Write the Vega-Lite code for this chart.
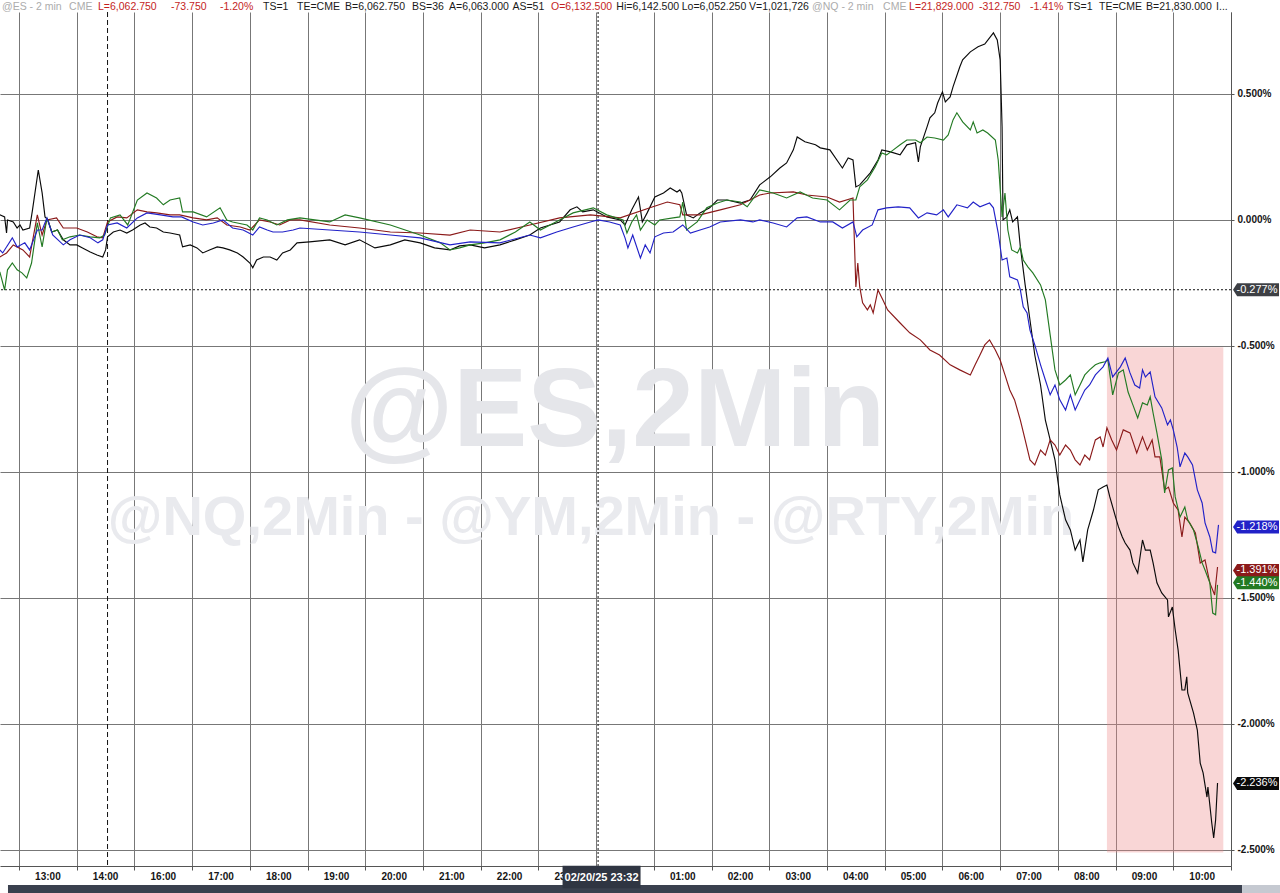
{
"$schema":"https://vega.github.io/schema/vega-lite/v6.json",
"width":1231,"height":854,
"autosize":{"type":"none"},
"padding":{"left":0,"top":12,"right":49,"bottom":27},
"background":"#ffffff",
"config":{"view":{"stroke":null},"font":"Liberation Sans"},
"datasets":{
"hours":[{"m":60,"lab":"13:00"},{"m":120,"lab":"14:00"},{"m":180,"lab":"16:00"},{"m":240,"lab":"17:00"},{"m":300,"lab":"18:00"},{"m":360,"lab":"19:00"},{"m":420,"lab":"20:00"},{"m":480,"lab":"21:00"},{"m":540,"lab":"22:00"},{"m":600,"lab":"23:00"},{"m":720,"lab":"01:00"},{"m":780,"lab":"02:00"},{"m":840,"lab":"03:00"},{"m":900,"lab":"04:00"},{"m":960,"lab":"05:00"},{"m":1020,"lab":"06:00"},{"m":1080,"lab":"07:00"},{"m":1140,"lab":"08:00"},{"m":1200,"lab":"09:00"},{"m":1260,"lab":"10:00"}],
"ends":[{"s":"REF","v":-0.277,"lbl":"-0.277%"},{"s":"ES","v":-1.218,"lbl":"-1.218%"},{"s":"YM","v":-1.391,"lbl":"-1.391%"},{"s":"NQ","v":-1.44,"lbl":"-1.440%"},{"s":"RTY","v":-2.236,"lbl":"-2.236%"}],
"series":[
{"s":"RTY","m":10,"v":0.020},{"s":"RTY","m":15,"v":0.012},{"s":"RTY","m":17,"v":-0.052},{"s":"RTY","m":18,"v":0},{"s":"RTY","m":24,"v":-0.008},{"s":"RTY","m":28,"v":-0.032},{"s":"RTY","m":31,"v":-0.020},{"s":"RTY","m":34,"v":-0.040},{"s":"RTY","m":41,"v":-0.032},{"s":"RTY","m":44,"v":0.040},{"s":"RTY","m":50,"v":0.198},{"s":"RTY","m":54,"v":0.107},{"s":"RTY","m":57,"v":0.012},{"s":"RTY","m":60,"v":0},{"s":"RTY","m":64,"v":-0.048},{"s":"RTY","m":70,"v":-0.040},{"s":"RTY","m":76,"v":-0.079},{"s":"RTY","m":83,"v":-0.099},{"s":"RTY","m":90,"v":-0.099},{"s":"RTY","m":96,"v":-0.111},{"s":"RTY","m":104,"v":-0.127},{"s":"RTY","m":111,"v":-0.139},{"s":"RTY","m":117,"v":-0.147},{"s":"RTY","m":120,"v":-0.119},{"s":"RTY","m":122,"v":-0.067},{"s":"RTY","m":128,"v":-0.048},{"s":"RTY","m":135,"v":-0.040},{"s":"RTY","m":142,"v":-0.052},{"s":"RTY","m":148,"v":-0.040},{"s":"RTY","m":156,"v":-0.020},{"s":"RTY","m":161,"v":-0.012},{"s":"RTY","m":166,"v":-0.028},{"s":"RTY","m":173,"v":-0.032},{"s":"RTY","m":180,"v":-0.048},{"s":"RTY","m":187,"v":-0.052},{"s":"RTY","m":197,"v":-0.060},{"s":"RTY","m":200,"v":-0.107},{"s":"RTY","m":208,"v":-0.099},{"s":"RTY","m":215,"v":-0.111},{"s":"RTY","m":221,"v":-0.131},{"s":"RTY","m":228,"v":-0.119},{"s":"RTY","m":236,"v":-0.107},{"s":"RTY","m":242,"v":-0.111},{"s":"RTY","m":249,"v":-0.119},{"s":"RTY","m":257,"v":-0.131},{"s":"RTY","m":263,"v":-0.147},{"s":"RTY","m":270,"v":-0.171},{"s":"RTY","m":273,"v":-0.190},{"s":"RTY","m":277,"v":-0.159},{"s":"RTY","m":284,"v":-0.147},{"s":"RTY","m":291,"v":-0.147},{"s":"RTY","m":298,"v":-0.159},{"s":"RTY","m":304,"v":-0.131},{"s":"RTY","m":312,"v":-0.119},{"s":"RTY","m":319,"v":-0.091},{"s":"RTY","m":332,"v":-0.087},{"s":"RTY","m":353,"v":-0.079},{"s":"RTY","m":369,"v":-0.099},{"s":"RTY","m":384,"v":-0.079},{"s":"RTY","m":400,"v":-0.111},{"s":"RTY","m":416,"v":-0.099},{"s":"RTY","m":431,"v":-0.079},{"s":"RTY","m":447,"v":-0.091},{"s":"RTY","m":462,"v":-0.111},{"s":"RTY","m":478,"v":-0.119},{"s":"RTY","m":488,"v":-0.103},{"s":"RTY","m":499,"v":-0.099},{"s":"RTY","m":514,"v":-0.111},{"s":"RTY","m":530,"v":-0.099},{"s":"RTY","m":546,"v":-0.079},{"s":"RTY","m":561,"v":-0.060},{"s":"RTY","m":572,"v":-0.032},{"s":"RTY","m":592,"v":-0.008},{"s":"RTY","m":603,"v":0.040},{"s":"RTY","m":610,"v":0.052},{"s":"RTY","m":616,"v":0.032},{"s":"RTY","m":627,"v":0.040},{"s":"RTY","m":641,"v":0.012},{"s":"RTY","m":655,"v":0},{"s":"RTY","m":660,"v":-0.020},{"s":"RTY","m":667,"v":0.040},{"s":"RTY","m":674,"v":0.091},{"s":"RTY","m":678,"v":-0.008},{"s":"RTY","m":683,"v":0.028},{"s":"RTY","m":691,"v":0.091},{"s":"RTY","m":700,"v":0.107},{"s":"RTY","m":707,"v":0.127},{"s":"RTY","m":714,"v":0.111},{"s":"RTY","m":717,"v":0.119},{"s":"RTY","m":719,"v":0.107},{"s":"RTY","m":724,"v":0.020},{"s":"RTY","m":731,"v":0.008},{"s":"RTY","m":738,"v":0.028},{"s":"RTY","m":748,"v":0.048},{"s":"RTY","m":756,"v":0.079},{"s":"RTY","m":766,"v":0.079},{"s":"RTY","m":780,"v":0.067},{"s":"RTY","m":790,"v":0.079},{"s":"RTY","m":800,"v":0.139},{"s":"RTY","m":811,"v":0.171},{"s":"RTY","m":821,"v":0.206},{"s":"RTY","m":828,"v":0.226},{"s":"RTY","m":835,"v":0.278},{"s":"RTY","m":839,"v":0.329},{"s":"RTY","m":847,"v":0.310},{"s":"RTY","m":858,"v":0.298},{"s":"RTY","m":863,"v":0.286},{"s":"RTY","m":873,"v":0.278},{"s":"RTY","m":886,"v":0.206},{"s":"RTY","m":892,"v":0.246},{"s":"RTY","m":897,"v":0.238},{"s":"RTY","m":900,"v":0.131},{"s":"RTY","m":904,"v":0.139},{"s":"RTY","m":915,"v":0.187},{"s":"RTY","m":923,"v":0.238},{"s":"RTY","m":927,"v":0.278},{"s":"RTY","m":936,"v":0.270},{"s":"RTY","m":946,"v":0.258},{"s":"RTY","m":953,"v":0.298},{"s":"RTY","m":962,"v":0.306},{"s":"RTY","m":965,"v":0.230},{"s":"RTY","m":967,"v":0.290},{"s":"RTY","m":974,"v":0.369},{"s":"RTY","m":977,"v":0.405},{"s":"RTY","m":982,"v":0.425},{"s":"RTY","m":985,"v":0.464},{"s":"RTY","m":990,"v":0.508},{"s":"RTY","m":993,"v":0.468},{"s":"RTY","m":998,"v":0.488},{"s":"RTY","m":1001,"v":0.528},{"s":"RTY","m":1008,"v":0.607},{"s":"RTY","m":1011,"v":0.635},{"s":"RTY","m":1019,"v":0.667},{"s":"RTY","m":1027,"v":0.687},{"s":"RTY","m":1034,"v":0.698},{"s":"RTY","m":1043,"v":0.742},{"s":"RTY","m":1047,"v":0.714},{"s":"RTY","m":1050,"v":0.635},{"s":"RTY","m":1052,"v":0.369},{"s":"RTY","m":1053,"v":0},{"s":"RTY","m":1057,"v":0.012},{"s":"RTY","m":1060,"v":0.040},{"s":"RTY","m":1063,"v":-0.008},{"s":"RTY","m":1068,"v":0.012},{"s":"RTY","m":1071,"v":-0.107},{"s":"RTY","m":1076,"v":-0.258},{"s":"RTY","m":1081,"v":-0.397},{"s":"RTY","m":1086,"v":-0.536},{"s":"RTY","m":1092,"v":-0.655},{"s":"RTY","m":1097,"v":-0.794},{"s":"RTY","m":1102,"v":-0.873},{"s":"RTY","m":1107,"v":-0.952},{"s":"RTY","m":1112,"v":-1.091},{"s":"RTY","m":1118,"v":-1.190},{"s":"RTY","m":1123,"v":-1.230},{"s":"RTY","m":1128,"v":-1.310},{"s":"RTY","m":1133,"v":-1.270},{"s":"RTY","m":1136,"v":-1.357},{"s":"RTY","m":1141,"v":-1.230},{"s":"RTY","m":1147,"v":-1.151},{"s":"RTY","m":1152,"v":-1.071},{"s":"RTY","m":1157,"v":-1.060},{"s":"RTY","m":1161,"v":-1.052},{"s":"RTY","m":1164,"v":-1.099},{"s":"RTY","m":1170,"v":-1.179},{"s":"RTY","m":1173,"v":-1.218},{"s":"RTY","m":1177,"v":-1.258},{"s":"RTY","m":1180,"v":-1.282},{"s":"RTY","m":1185,"v":-1.310},{"s":"RTY","m":1188,"v":-1.361},{"s":"RTY","m":1193,"v":-1.401},{"s":"RTY","m":1198,"v":-1.270},{"s":"RTY","m":1201,"v":-1.310},{"s":"RTY","m":1206,"v":-1.310},{"s":"RTY","m":1209,"v":-1.361},{"s":"RTY","m":1213,"v":-1.440},{"s":"RTY","m":1218,"v":-1.480},{"s":"RTY","m":1224,"v":-1.508},{"s":"RTY","m":1225,"v":-1.575},{"s":"RTY","m":1229,"v":-1.536},{"s":"RTY","m":1232,"v":-1.627},{"s":"RTY","m":1235,"v":-1.706},{"s":"RTY","m":1239,"v":-1.865},{"s":"RTY","m":1242,"v":-1.865},{"s":"RTY","m":1244,"v":-1.813},{"s":"RTY","m":1245,"v":-1.877},{"s":"RTY","m":1251,"v":-1.956},{"s":"RTY","m":1255,"v":-2.024},{"s":"RTY","m":1258,"v":-2.155},{"s":"RTY","m":1261,"v":-2.194},{"s":"RTY","m":1265,"v":-2.290},{"s":"RTY","m":1266,"v":-2.250},{"s":"RTY","m":1270,"v":-2.393},{"s":"RTY","m":1272,"v":-2.452},{"s":"RTY","m":1274,"v":-2.381},{"s":"RTY","m":1276,"v":-2.234},
{"s":"YM","m":10,"v":-0.147},{"s":"YM","m":17,"v":-0.131},{"s":"YM","m":24,"v":-0.099},{"s":"YM","m":34,"v":-0.119},{"s":"YM","m":41,"v":-0.147},{"s":"YM","m":49,"v":0.020},{"s":"YM","m":54,"v":-0.060},{"s":"YM","m":59,"v":0},{"s":"YM","m":69,"v":0.008},{"s":"YM","m":76,"v":-0.032},{"s":"YM","m":90,"v":-0.032},{"s":"YM","m":101,"v":-0.048},{"s":"YM","m":111,"v":-0.067},{"s":"YM","m":117,"v":-0.071},{"s":"YM","m":122,"v":-0.008},{"s":"YM","m":132,"v":0.012},{"s":"YM","m":142,"v":0.008},{"s":"YM","m":153,"v":0.040},{"s":"YM","m":163,"v":0.032},{"s":"YM","m":173,"v":0.028},{"s":"YM","m":187,"v":0.020},{"s":"YM","m":197,"v":0.020},{"s":"YM","m":211,"v":0.008},{"s":"YM","m":225,"v":0},{"s":"YM","m":236,"v":0.008},{"s":"YM","m":246,"v":-0.020},{"s":"YM","m":260,"v":-0.028},{"s":"YM","m":270,"v":-0.040},{"s":"YM","m":280,"v":0},{"s":"YM","m":291,"v":-0.008},{"s":"YM","m":301,"v":-0.020},{"s":"YM","m":312,"v":0},{"s":"YM","m":322,"v":0},{"s":"YM","m":353,"v":-0.020},{"s":"YM","m":384,"v":-0.032},{"s":"YM","m":416,"v":-0.048},{"s":"YM","m":447,"v":-0.052},{"s":"YM","m":478,"v":-0.060},{"s":"YM","m":499,"v":-0.040},{"s":"YM","m":530,"v":-0.048},{"s":"YM","m":561,"v":-0.020},{"s":"YM","m":592,"v":0.008},{"s":"YM","m":624,"v":0.020},{"s":"YM","m":655,"v":0.008},{"s":"YM","m":689,"v":0.052},{"s":"YM","m":704,"v":0.071},{"s":"YM","m":717,"v":0.060},{"s":"YM","m":720,"v":0.020},{"s":"YM","m":738,"v":0.020},{"s":"YM","m":759,"v":0.040},{"s":"YM","m":780,"v":0.060},{"s":"YM","m":800,"v":0.099},{"s":"YM","m":811,"v":0.107},{"s":"YM","m":835,"v":0.111},{"s":"YM","m":849,"v":0.099},{"s":"YM","m":870,"v":0.091},{"s":"YM","m":883,"v":0.071},{"s":"YM","m":897,"v":0.087},{"s":"YM","m":900,"v":-0.266},{"s":"YM","m":902,"v":-0.171},{"s":"YM","m":904,"v":-0.266},{"s":"YM","m":907,"v":-0.329},{"s":"YM","m":912,"v":-0.357},{"s":"YM","m":915,"v":-0.337},{"s":"YM","m":918,"v":-0.369},{"s":"YM","m":923,"v":-0.278},{"s":"YM","m":928,"v":-0.317},{"s":"YM","m":933,"v":-0.357},{"s":"YM","m":946,"v":-0.409},{"s":"YM","m":956,"v":-0.448},{"s":"YM","m":967,"v":-0.476},{"s":"YM","m":977,"v":-0.516},{"s":"YM","m":987,"v":-0.536},{"s":"YM","m":998,"v":-0.575},{"s":"YM","m":1008,"v":-0.595},{"s":"YM","m":1019,"v":-0.615},{"s":"YM","m":1024,"v":-0.575},{"s":"YM","m":1029,"v":-0.536},{"s":"YM","m":1034,"v":-0.496},{"s":"YM","m":1039,"v":-0.476},{"s":"YM","m":1045,"v":-0.516},{"s":"YM","m":1050,"v":-0.556},{"s":"YM","m":1055,"v":-0.615},{"s":"YM","m":1060,"v":-0.675},{"s":"YM","m":1065,"v":-0.714},{"s":"YM","m":1071,"v":-0.794},{"s":"YM","m":1076,"v":-0.873},{"s":"YM","m":1081,"v":-0.952},{"s":"YM","m":1086,"v":-0.972},{"s":"YM","m":1092,"v":-0.913},{"s":"YM","m":1097,"v":-0.933},{"s":"YM","m":1102,"v":-0.873},{"s":"YM","m":1107,"v":-0.893},{"s":"YM","m":1112,"v":-0.933},{"s":"YM","m":1118,"v":-0.893},{"s":"YM","m":1123,"v":-0.913},{"s":"YM","m":1128,"v":-0.952},{"s":"YM","m":1133,"v":-0.972},{"s":"YM","m":1138,"v":-0.933},{"s":"YM","m":1143,"v":-0.952},{"s":"YM","m":1149,"v":-0.873},{"s":"YM","m":1154,"v":-0.861},{"s":"YM","m":1157,"v":-0.901},{"s":"YM","m":1161,"v":-0.825},{"s":"YM","m":1166,"v":-0.873},{"s":"YM","m":1171,"v":-0.913},{"s":"YM","m":1178,"v":-0.833},{"s":"YM","m":1185,"v":-0.845},{"s":"YM","m":1192,"v":-0.925},{"s":"YM","m":1198,"v":-0.861},{"s":"YM","m":1203,"v":-0.913},{"s":"YM","m":1208,"v":-0.873},{"s":"YM","m":1211,"v":-0.940},{"s":"YM","m":1216,"v":-0.940},{"s":"YM","m":1221,"v":-1.071},{"s":"YM","m":1225,"v":-1.060},{"s":"YM","m":1230,"v":-1.123},{"s":"YM","m":1235,"v":-1.151},{"s":"YM","m":1239,"v":-1.258},{"s":"YM","m":1242,"v":-1.179},{"s":"YM","m":1247,"v":-1.202},{"s":"YM","m":1253,"v":-1.242},{"s":"YM","m":1258,"v":-1.361},{"s":"YM","m":1263,"v":-1.349},{"s":"YM","m":1268,"v":-1.440},{"s":"YM","m":1273,"v":-1.488},{"s":"YM","m":1276,"v":-1.377},
{"s":"NQ","m":10,"v":-0.206},{"s":"NQ","m":15,"v":-0.278},{"s":"NQ","m":18,"v":-0.198},{"s":"NQ","m":23,"v":-0.171},{"s":"NQ","m":28,"v":-0.198},{"s":"NQ","m":33,"v":-0.210},{"s":"NQ","m":38,"v":-0.230},{"s":"NQ","m":43,"v":-0.171},{"s":"NQ","m":49,"v":-0.012},{"s":"NQ","m":54,"v":-0.107},{"s":"NQ","m":59,"v":0.008},{"s":"NQ","m":64,"v":-0.048},{"s":"NQ","m":70,"v":-0.040},{"s":"NQ","m":75,"v":-0.079},{"s":"NQ","m":83,"v":-0.067},{"s":"NQ","m":93,"v":-0.060},{"s":"NQ","m":104,"v":-0.067},{"s":"NQ","m":114,"v":-0.071},{"s":"NQ","m":119,"v":-0.060},{"s":"NQ","m":125,"v":0.008},{"s":"NQ","m":135,"v":0.020},{"s":"NQ","m":143,"v":-0.020},{"s":"NQ","m":153,"v":0.079},{"s":"NQ","m":163,"v":0.107},{"s":"NQ","m":173,"v":0.087},{"s":"NQ","m":180,"v":0.060},{"s":"NQ","m":187,"v":0.079},{"s":"NQ","m":197,"v":0.087},{"s":"NQ","m":200,"v":0.032},{"s":"NQ","m":211,"v":0.032},{"s":"NQ","m":225,"v":0.012},{"s":"NQ","m":239,"v":0.048},{"s":"NQ","m":246,"v":0},{"s":"NQ","m":252,"v":-0.008},{"s":"NQ","m":267,"v":-0.020},{"s":"NQ","m":273,"v":-0.040},{"s":"NQ","m":280,"v":0.008},{"s":"NQ","m":288,"v":0},{"s":"NQ","m":298,"v":-0.020},{"s":"NQ","m":309,"v":0},{"s":"NQ","m":322,"v":0.008},{"s":"NQ","m":353,"v":-0.008},{"s":"NQ","m":369,"v":0.020},{"s":"NQ","m":384,"v":0.008},{"s":"NQ","m":416,"v":-0.020},{"s":"NQ","m":447,"v":-0.060},{"s":"NQ","m":468,"v":-0.091},{"s":"NQ","m":478,"v":-0.119},{"s":"NQ","m":488,"v":-0.111},{"s":"NQ","m":499,"v":-0.099},{"s":"NQ","m":514,"v":-0.091},{"s":"NQ","m":530,"v":-0.079},{"s":"NQ","m":546,"v":-0.048},{"s":"NQ","m":561,"v":-0.008},{"s":"NQ","m":572,"v":-0.040},{"s":"NQ","m":592,"v":0},{"s":"NQ","m":606,"v":0.028},{"s":"NQ","m":627,"v":0.048},{"s":"NQ","m":641,"v":0.020},{"s":"NQ","m":658,"v":0},{"s":"NQ","m":662,"v":-0.052},{"s":"NQ","m":667,"v":-0.008},{"s":"NQ","m":672,"v":0.020},{"s":"NQ","m":676,"v":-0.040},{"s":"NQ","m":683,"v":0},{"s":"NQ","m":691,"v":-0.020},{"s":"NQ","m":696,"v":0},{"s":"NQ","m":710,"v":0.008},{"s":"NQ","m":717,"v":0.012},{"s":"NQ","m":720,"v":0.071},{"s":"NQ","m":724,"v":-0.040},{"s":"NQ","m":735,"v":-0.008},{"s":"NQ","m":745,"v":0.048},{"s":"NQ","m":756,"v":0.067},{"s":"NQ","m":766,"v":0.079},{"s":"NQ","m":780,"v":0.071},{"s":"NQ","m":787,"v":0.052},{"s":"NQ","m":800,"v":0.119},{"s":"NQ","m":814,"v":0.107},{"s":"NQ","m":828,"v":0.087},{"s":"NQ","m":842,"v":0.111},{"s":"NQ","m":855,"v":0.087},{"s":"NQ","m":870,"v":0.079},{"s":"NQ","m":883,"v":0.040},{"s":"NQ","m":894,"v":0.079},{"s":"NQ","m":900,"v":0.079},{"s":"NQ","m":904,"v":0.131},{"s":"NQ","m":912,"v":0.159},{"s":"NQ","m":920,"v":0.210},{"s":"NQ","m":927,"v":0.266},{"s":"NQ","m":932,"v":0.258},{"s":"NQ","m":939,"v":0.278},{"s":"NQ","m":946,"v":0.298},{"s":"NQ","m":953,"v":0.317},{"s":"NQ","m":962,"v":0.317},{"s":"NQ","m":967,"v":0.306},{"s":"NQ","m":974,"v":0.329},{"s":"NQ","m":982,"v":0.325},{"s":"NQ","m":991,"v":0.317},{"s":"NQ","m":996,"v":0.337},{"s":"NQ","m":1001,"v":0.397},{"s":"NQ","m":1005,"v":0.425},{"s":"NQ","m":1011,"v":0.389},{"s":"NQ","m":1019,"v":0.357},{"s":"NQ","m":1022,"v":0.389},{"s":"NQ","m":1026,"v":0.345},{"s":"NQ","m":1032,"v":0.357},{"s":"NQ","m":1037,"v":0.345},{"s":"NQ","m":1045,"v":0.317},{"s":"NQ","m":1048,"v":0.238},{"s":"NQ","m":1052,"v":0.012},{"s":"NQ","m":1055,"v":0.107},{"s":"NQ","m":1058,"v":-0.040},{"s":"NQ","m":1062,"v":-0.119},{"s":"NQ","m":1068,"v":-0.131},{"s":"NQ","m":1071,"v":-0.107},{"s":"NQ","m":1074,"v":-0.159},{"s":"NQ","m":1079,"v":-0.187},{"s":"NQ","m":1084,"v":-0.210},{"s":"NQ","m":1092,"v":-0.258},{"s":"NQ","m":1097,"v":-0.317},{"s":"NQ","m":1102,"v":-0.456},{"s":"NQ","m":1107,"v":-0.595},{"s":"NQ","m":1112,"v":-0.655},{"s":"NQ","m":1118,"v":-0.635},{"s":"NQ","m":1123,"v":-0.615},{"s":"NQ","m":1128,"v":-0.694},{"s":"NQ","m":1133,"v":-0.655},{"s":"NQ","m":1138,"v":-0.615},{"s":"NQ","m":1143,"v":-0.595},{"s":"NQ","m":1149,"v":-0.575},{"s":"NQ","m":1154,"v":-0.567},{"s":"NQ","m":1159,"v":-0.563},{"s":"NQ","m":1162,"v":-0.556},{"s":"NQ","m":1167,"v":-0.694},{"s":"NQ","m":1173,"v":-0.607},{"s":"NQ","m":1178,"v":-0.595},{"s":"NQ","m":1183,"v":-0.683},{"s":"NQ","m":1188,"v":-0.734},{"s":"NQ","m":1193,"v":-0.786},{"s":"NQ","m":1198,"v":-0.726},{"s":"NQ","m":1203,"v":-0.734},{"s":"NQ","m":1206,"v":-0.702},{"s":"NQ","m":1209,"v":-0.766},{"s":"NQ","m":1213,"v":-0.845},{"s":"NQ","m":1218,"v":-0.952},{"s":"NQ","m":1221,"v":-1.083},{"s":"NQ","m":1225,"v":-0.992},{"s":"NQ","m":1229,"v":-0.984},{"s":"NQ","m":1232,"v":-1.099},{"s":"NQ","m":1237,"v":-1.179},{"s":"NQ","m":1242,"v":-1.139},{"s":"NQ","m":1245,"v":-1.190},{"s":"NQ","m":1251,"v":-1.230},{"s":"NQ","m":1256,"v":-1.298},{"s":"NQ","m":1260,"v":-1.361},{"s":"NQ","m":1263,"v":-1.389},{"s":"NQ","m":1268,"v":-1.440},{"s":"NQ","m":1271,"v":-1.560},{"s":"NQ","m":1274,"v":-1.567},{"s":"NQ","m":1276,"v":-1.448},
{"s":"ES","m":10,"v":-0.119},{"s":"ES","m":13,"v":-0.131},{"s":"ES","m":23,"v":-0.071},{"s":"ES","m":28,"v":-0.107},{"s":"ES","m":36,"v":-0.091},{"s":"ES","m":41,"v":-0.119},{"s":"ES","m":49,"v":-0.040},{"s":"ES","m":54,"v":-0.040},{"s":"ES","m":59,"v":0.008},{"s":"ES","m":65,"v":-0.060},{"s":"ES","m":76,"v":-0.099},{"s":"ES","m":83,"v":-0.079},{"s":"ES","m":93,"v":-0.060},{"s":"ES","m":104,"v":-0.071},{"s":"ES","m":112,"v":-0.091},{"s":"ES","m":117,"v":-0.079},{"s":"ES","m":122,"v":-0.020},{"s":"ES","m":132,"v":-0.012},{"s":"ES","m":142,"v":-0.032},{"s":"ES","m":153,"v":0.008},{"s":"ES","m":163,"v":0.028},{"s":"ES","m":177,"v":0.020},{"s":"ES","m":190,"v":0.012},{"s":"ES","m":199,"v":0.012},{"s":"ES","m":211,"v":-0.008},{"s":"ES","m":221,"v":-0.020},{"s":"ES","m":232,"v":-0.012},{"s":"ES","m":242,"v":0},{"s":"ES","m":252,"v":-0.032},{"s":"ES","m":263,"v":-0.040},{"s":"ES","m":273,"v":-0.060},{"s":"ES","m":280,"v":-0.028},{"s":"ES","m":288,"v":-0.040},{"s":"ES","m":294,"v":-0.048},{"s":"ES","m":304,"v":-0.048},{"s":"ES","m":315,"v":-0.040},{"s":"ES","m":322,"v":-0.032},{"s":"ES","m":353,"v":-0.040},{"s":"ES","m":384,"v":-0.048},{"s":"ES","m":416,"v":-0.060},{"s":"ES","m":447,"v":-0.071},{"s":"ES","m":478,"v":-0.099},{"s":"ES","m":499,"v":-0.087},{"s":"ES","m":530,"v":-0.091},{"s":"ES","m":561,"v":-0.060},{"s":"ES","m":572,"v":-0.071},{"s":"ES","m":589,"v":-0.048},{"s":"ES","m":606,"v":-0.028},{"s":"ES","m":624,"v":-0.008},{"s":"ES","m":632,"v":0},{"s":"ES","m":644,"v":-0.008},{"s":"ES","m":655,"v":-0.020},{"s":"ES","m":660,"v":-0.071},{"s":"ES","m":663,"v":-0.111},{"s":"ES","m":668,"v":-0.060},{"s":"ES","m":676,"v":-0.151},{"s":"ES","m":681,"v":-0.099},{"s":"ES","m":686,"v":-0.131},{"s":"ES","m":691,"v":-0.067},{"s":"ES","m":700,"v":-0.052},{"s":"ES","m":710,"v":-0.048},{"s":"ES","m":720,"v":-0.020},{"s":"ES","m":728,"v":-0.052},{"s":"ES","m":738,"v":-0.040},{"s":"ES","m":748,"v":-0.028},{"s":"ES","m":759,"v":-0.008},{"s":"ES","m":780,"v":0},{"s":"ES","m":793,"v":-0.008},{"s":"ES","m":800,"v":0},{"s":"ES","m":814,"v":-0.012},{"s":"ES","m":828,"v":-0.028},{"s":"ES","m":839,"v":0.008},{"s":"ES","m":849,"v":0.012},{"s":"ES","m":863,"v":-0.008},{"s":"ES","m":876,"v":-0.008},{"s":"ES","m":886,"v":-0.032},{"s":"ES","m":897,"v":-0.008},{"s":"ES","m":901,"v":-0.067},{"s":"ES","m":907,"v":-0.040},{"s":"ES","m":917,"v":-0.020},{"s":"ES","m":923,"v":0.040},{"s":"ES","m":932,"v":0.048},{"s":"ES","m":944,"v":0.052},{"s":"ES","m":956,"v":0.048},{"s":"ES","m":965,"v":0.008},{"s":"ES","m":974,"v":0.028},{"s":"ES","m":984,"v":0.020},{"s":"ES","m":991,"v":0.040},{"s":"ES","m":996,"v":0.012},{"s":"ES","m":1005,"v":0.060},{"s":"ES","m":1016,"v":0.048},{"s":"ES","m":1022,"v":0.071},{"s":"ES","m":1029,"v":0.052},{"s":"ES","m":1039,"v":0.067},{"s":"ES","m":1043,"v":0.048},{"s":"ES","m":1048,"v":-0.052},{"s":"ES","m":1052,"v":-0.159},{"s":"ES","m":1057,"v":-0.151},{"s":"ES","m":1060,"v":-0.226},{"s":"ES","m":1068,"v":-0.238},{"s":"ES","m":1071,"v":-0.278},{"s":"ES","m":1074,"v":-0.345},{"s":"ES","m":1078,"v":-0.369},{"s":"ES","m":1081,"v":-0.437},{"s":"ES","m":1086,"v":-0.496},{"s":"ES","m":1092,"v":-0.575},{"s":"ES","m":1097,"v":-0.635},{"s":"ES","m":1102,"v":-0.694},{"s":"ES","m":1107,"v":-0.655},{"s":"ES","m":1112,"v":-0.714},{"s":"ES","m":1118,"v":-0.754},{"s":"ES","m":1123,"v":-0.694},{"s":"ES","m":1128,"v":-0.754},{"s":"ES","m":1133,"v":-0.714},{"s":"ES","m":1138,"v":-0.675},{"s":"ES","m":1143,"v":-0.655},{"s":"ES","m":1149,"v":-0.615},{"s":"ES","m":1154,"v":-0.595},{"s":"ES","m":1157,"v":-0.583},{"s":"ES","m":1162,"v":-0.548},{"s":"ES","m":1167,"v":-0.623},{"s":"ES","m":1175,"v":-0.583},{"s":"ES","m":1180,"v":-0.548},{"s":"ES","m":1185,"v":-0.607},{"s":"ES","m":1190,"v":-0.655},{"s":"ES","m":1195,"v":-0.667},{"s":"ES","m":1198,"v":-0.595},{"s":"ES","m":1201,"v":-0.623},{"s":"ES","m":1206,"v":-0.603},{"s":"ES","m":1211,"v":-0.702},{"s":"ES","m":1218,"v":-0.746},{"s":"ES","m":1224,"v":-0.813},{"s":"ES","m":1227,"v":-0.794},{"s":"ES","m":1230,"v":-0.833},{"s":"ES","m":1234,"v":-0.901},{"s":"ES","m":1237,"v":-0.980},{"s":"ES","m":1242,"v":-0.925},{"s":"ES","m":1245,"v":-0.940},{"s":"ES","m":1250,"v":-0.972},{"s":"ES","m":1255,"v":-1.071},{"s":"ES","m":1260,"v":-1.123},{"s":"ES","m":1263,"v":-1.202},{"s":"ES","m":1268,"v":-1.258},{"s":"ES","m":1271,"v":-1.317},{"s":"ES","m":1274,"v":-1.321},{"s":"ES","m":1277,"v":-1.210}
]},
"layer":[
{"data":{"values":[{}]},"mark":{"type":"rect","fill":"#ee8a8a","opacity":0.35},
 "encoding":{"x":{"datum":1161,"scale":{"domain":[10.2,1290],"nice":false,"zero":false}},"x2":{"datum":1282},"y":{"datum":-0.505,"scale":{"domain":[-2.5635,0.825],"nice":false,"zero":false}},"y2":{"datum":-2.51}}},
{"data":{"values":[{}]},"mark":{"type":"text","text":"@ES,2Min","font":"Liberation Sans","fontSize":111,"fontWeight":"bold","color":"#e5e6ea","align":"center","baseline":"alphabetic"},
 "encoding":{"x":{"datum":649.6,"scale":{"domain":[10.2,1290],"nice":false,"zero":false}},"y":{"datum":-0.897,"scale":{"domain":[-2.5635,0.825],"nice":false,"zero":false}}}},
{"data":{"values":[{}]},"mark":{"type":"text","text":"@NQ,2Min - @YM,2Min - @RTY,2Min","font":"Liberation Sans","fontSize":56,"fontWeight":"bold","color":"#e9eaee","align":"center","baseline":"alphabetic"},
 "encoding":{"x":{"datum":624.7,"scale":{"domain":[10.2,1290],"nice":false,"zero":false}},"y":{"datum":-1.25,"scale":{"domain":[-2.5635,0.825],"nice":false,"zero":false}}}},
{"data":{"values":[{}]},"mark":{"type":"rule","color":"#111111","strokeDash":[2,2],"strokeWidth":1},
 "encoding":{"y":{"datum":-0.277,"scale":{"domain":[-2.5635,0.825],"nice":false,"zero":false}}}},
{"data":{"values":[{}]},"mark":{"type":"rule","color":"#111111","strokeDash":[5,3],"strokeWidth":1},
 "encoding":{"x":{"datum":122,"scale":{"domain":[10.2,1290],"nice":false,"zero":false}}}},
{"data":{"values":[{}]},"mark":{"type":"rule","color":"#111111","strokeDash":[2,2],"strokeWidth":1},
 "encoding":{"x":{"datum":632,"scale":{"domain":[10.2,1290],"nice":false,"zero":false}}}},
{"data":{"name":"series"},"mark":{"type":"line","strokeWidth":1.15},
 "encoding":{
  "x":{"field":"m","type":"quantitative","scale":{"domain":[10.2,1290],"nice":false,"zero":false},
   "axis":{"orient":"bottom","title":null,"values":[30,60,90,120,150,180,210,240,270,300,330,360,390,420,450,480,510,540,570,600,630,660,690,720,750,780,810,840,870,900,930,960,990,1020,1050,1080,1110,1140,1170,1200,1230,1260,1290],
    "labels":false,"grid":true,"gridColor":"#777777","gridWidth":1,"domainColor":"#555555","tickColor":"#555555","tickSize":4}},
  "y":{"field":"v","type":"quantitative","scale":{"domain":[-2.5635,0.825],"nice":false,"zero":false},
   "axis":{"orient":"right","title":null,"values":[0.5,0,-0.5,-1,-1.5,-2,-2.5],"labelExpr":"(datum.value < 0 ? '-' : '') + format(abs(datum.value), '.3f') + '%'",
    "grid":true,"gridColor":"#777777","gridWidth":1,"domainColor":"#555555","tickColor":"#555555","tickSize":3,"labelFont":"Liberation Sans","labelFontSize":10,"labelFontWeight":"bold","labelColor":"#151515","labelPadding":3,"labelFlush":false,"labelOverlap":false}},
  "color":{"field":"s","type":"nominal","scale":{"domain":["ES","NQ","YM","RTY","REF"],"range":["#2222c8","#237a23","#8b1a1a","#0a0a0a","#3d3f44"]},"legend":null}}},
{"data":{"name":"hours"},"mark":{"type":"text","color":"#151515","font":"Liberation Sans","fontSize":10,"fontWeight":"bold","align":"center","baseline":"top"},
 "encoding":{"x":{"field":"m","type":"quantitative","scale":{"domain":[10.2,1290],"nice":false,"zero":false}},"y":{"datum":-2.5877,"scale":{"domain":[-2.5635,0.825],"nice":false,"zero":false}},"text":{"field":"lab"}}},
{"data":{"name":"ends"},"mark":{"type":"point","shape":"M-1,0L-0.82,-0.283L1,-0.283L1,0.283L-0.82,0.283Z","size":2116,"filled":true,"opacity":1,"strokeWidth":0},
 "encoding":{"x":{"datum":1316,"scale":{"domain":[10.2,1290],"nice":false,"zero":false}},"y":{"field":"v","type":"quantitative","scale":{"domain":[-2.5635,0.825],"nice":false,"zero":false}},
  "color":{"field":"s","type":"nominal","scale":{"domain":["ES","NQ","YM","RTY","REF"],"range":["#2222c8","#237a23","#8b1a1a","#0a0a0a","#3d3f44"]},"legend":null}}},
{"data":{"name":"ends"},"mark":{"type":"text","color":"#ffffff","font":"Liberation Sans","fontSize":11,"align":"center","baseline":"middle"},
 "encoding":{"x":{"datum":1317,"scale":{"domain":[10.2,1290],"nice":false,"zero":false}},"y":{"field":"v","type":"quantitative","scale":{"domain":[-2.5635,0.825],"nice":false,"zero":false}},"text":{"field":"lbl"}}},
{"data":{"values":[{}]},"mark":{"type":"rect","fill":"#3a404e"},
 "encoding":{"x":{"datum":18.5,"scale":{"domain":[10.2,1290],"nice":false,"zero":false}},"x2":{"datum":1301.5},"y":{"datum":-2.639,"scale":{"domain":[-2.5635,0.825],"nice":false,"zero":false}},"y2":{"datum":-2.675}}},
{"data":{"values":[{}]},"mark":{"type":"rect","fill":"#c5c9d1"},
 "encoding":{"x":{"datum":1301.5,"scale":{"domain":[10.2,1290],"nice":false,"zero":false}},"x2":{"datum":1345},"y":{"datum":-2.639,"scale":{"domain":[-2.5635,0.825],"nice":false,"zero":false}},"y2":{"datum":-2.675}}},
{"data":{"values":[{}]},"mark":{"type":"point","shape":"M-1,-0.29L1,-0.29L1,0.29L-1,0.29Z","size":6084,"filled":true,"opacity":1,"strokeWidth":0,"color":"#2f3542"},
 "encoding":{"x":{"datum":635.6,"scale":{"domain":[10.2,1290],"nice":false,"zero":false}},"y":{"datum":-2.607,"scale":{"domain":[-2.5635,0.825],"nice":false,"zero":false}}}},
{"data":{"values":[{}]},"mark":{"type":"text","text":"02/20/25 23:32","color":"#ffffff","font":"Liberation Sans","fontSize":11,"fontWeight":"bold","align":"center","baseline":"alphabetic"},
 "encoding":{"x":{"datum":635.6,"scale":{"domain":[10.2,1290],"nice":false,"zero":false}},"y":{"datum":-2.623,"scale":{"domain":[-2.5635,0.825],"nice":false,"zero":false}}}},
{"data":{"values":[{}]},"mark":{"type":"text","text":"@ES - 2 min","color":"#acacac","font":"Liberation Sans","fontSize":10.5,"align":"left","baseline":"alphabetic"},"encoding":{"x":{"datum":12.3,"scale":{"domain":[10.2,1290],"nice":false,"zero":false}},"y":{"datum":0.833,"scale":{"domain":[-2.5635,0.825],"nice":false,"zero":false}}}},
{"data":{"values":[{}]},"mark":{"type":"text","text":"CME","color":"#acacac","font":"Liberation Sans","fontSize":10.5,"align":"left","baseline":"alphabetic"},"encoding":{"x":{"datum":82,"scale":{"domain":[10.2,1290],"nice":false,"zero":false}},"y":{"datum":0.833,"scale":{"domain":[-2.5635,0.825],"nice":false,"zero":false}}}},
{"data":{"values":[{}]},"mark":{"type":"text","text":"L=6,062.750","color":"#c41e1e","font":"Liberation Sans","fontSize":10.5,"align":"left","baseline":"alphabetic"},"encoding":{"x":{"datum":112.1,"scale":{"domain":[10.2,1290],"nice":false,"zero":false}},"y":{"datum":0.833,"scale":{"domain":[-2.5635,0.825],"nice":false,"zero":false}}}},
{"data":{"values":[{}]},"mark":{"type":"text","text":"-73.750","color":"#c41e1e","font":"Liberation Sans","fontSize":10.5,"align":"left","baseline":"alphabetic"},"encoding":{"x":{"datum":188,"scale":{"domain":[10.2,1290],"nice":false,"zero":false}},"y":{"datum":0.833,"scale":{"domain":[-2.5635,0.825],"nice":false,"zero":false}}}},
{"data":{"values":[{}]},"mark":{"type":"text","text":"-1.20%","color":"#c41e1e","font":"Liberation Sans","fontSize":10.5,"align":"left","baseline":"alphabetic"},"encoding":{"x":{"datum":238.9,"scale":{"domain":[10.2,1290],"nice":false,"zero":false}},"y":{"datum":0.833,"scale":{"domain":[-2.5635,0.825],"nice":false,"zero":false}}}},
{"data":{"values":[{}]},"mark":{"type":"text","text":"TS=1","color":"#1a1a1a","font":"Liberation Sans","fontSize":10.5,"align":"left","baseline":"alphabetic"},"encoding":{"x":{"datum":283.6,"scale":{"domain":[10.2,1290],"nice":false,"zero":false}},"y":{"datum":0.833,"scale":{"domain":[-2.5635,0.825],"nice":false,"zero":false}}}},
{"data":{"values":[{}]},"mark":{"type":"text","text":"TE=CME","color":"#1a1a1a","font":"Liberation Sans","fontSize":10.5,"align":"left","baseline":"alphabetic"},"encoding":{"x":{"datum":319,"scale":{"domain":[10.2,1290],"nice":false,"zero":false}},"y":{"datum":0.833,"scale":{"domain":[-2.5635,0.825],"nice":false,"zero":false}}}},
{"data":{"values":[{}]},"mark":{"type":"text","text":"B=6,062.750","color":"#1a1a1a","font":"Liberation Sans","fontSize":10.5,"align":"left","baseline":"alphabetic"},"encoding":{"x":{"datum":369,"scale":{"domain":[10.2,1290],"nice":false,"zero":false}},"y":{"datum":0.833,"scale":{"domain":[-2.5635,0.825],"nice":false,"zero":false}}}},
{"data":{"values":[{}]},"mark":{"type":"text","text":"BS=36","color":"#1a1a1a","font":"Liberation Sans","fontSize":10.5,"align":"left","baseline":"alphabetic"},"encoding":{"x":{"datum":438.6,"scale":{"domain":[10.2,1290],"nice":false,"zero":false}},"y":{"datum":0.833,"scale":{"domain":[-2.5635,0.825],"nice":false,"zero":false}}}},
{"data":{"values":[{}]},"mark":{"type":"text","text":"A=6,063.000","color":"#1a1a1a","font":"Liberation Sans","fontSize":10.5,"align":"left","baseline":"alphabetic"},"encoding":{"x":{"datum":477,"scale":{"domain":[10.2,1290],"nice":false,"zero":false}},"y":{"datum":0.833,"scale":{"domain":[-2.5635,0.825],"nice":false,"zero":false}}}},
{"data":{"values":[{}]},"mark":{"type":"text","text":"AS=51","color":"#1a1a1a","font":"Liberation Sans","fontSize":10.5,"align":"left","baseline":"alphabetic"},"encoding":{"x":{"datum":543,"scale":{"domain":[10.2,1290],"nice":false,"zero":false}},"y":{"datum":0.833,"scale":{"domain":[-2.5635,0.825],"nice":false,"zero":false}}}},
{"data":{"values":[{}]},"mark":{"type":"text","text":"O=6,132.500","color":"#c41e1e","font":"Liberation Sans","fontSize":10.5,"align":"left","baseline":"alphabetic"},"encoding":{"x":{"datum":583.1,"scale":{"domain":[10.2,1290],"nice":false,"zero":false}},"y":{"datum":0.833,"scale":{"domain":[-2.5635,0.825],"nice":false,"zero":false}}}},
{"data":{"values":[{}]},"mark":{"type":"text","text":"Hi=6,142.500","color":"#1a1a1a","font":"Liberation Sans","fontSize":10.5,"align":"left","baseline":"alphabetic"},"encoding":{"x":{"datum":651,"scale":{"domain":[10.2,1290],"nice":false,"zero":false}},"y":{"datum":0.833,"scale":{"domain":[-2.5635,0.825],"nice":false,"zero":false}}}},
{"data":{"values":[{}]},"mark":{"type":"text","text":"Lo=6,052.250","color":"#1a1a1a","font":"Liberation Sans","fontSize":10.5,"align":"left","baseline":"alphabetic"},"encoding":{"x":{"datum":719,"scale":{"domain":[10.2,1290],"nice":false,"zero":false}},"y":{"datum":0.833,"scale":{"domain":[-2.5635,0.825],"nice":false,"zero":false}}}},
{"data":{"values":[{}]},"mark":{"type":"text","text":"V=1,021,726","color":"#1a1a1a","font":"Liberation Sans","fontSize":10.5,"align":"left","baseline":"alphabetic"},"encoding":{"x":{"datum":789,"scale":{"domain":[10.2,1290],"nice":false,"zero":false}},"y":{"datum":0.833,"scale":{"domain":[-2.5635,0.825],"nice":false,"zero":false}}}},
{"data":{"values":[{}]},"mark":{"type":"text","text":"@NQ - 2 min","color":"#acacac","font":"Liberation Sans","fontSize":10.5,"align":"left","baseline":"alphabetic"},"encoding":{"x":{"datum":854.5,"scale":{"domain":[10.2,1290],"nice":false,"zero":false}},"y":{"datum":0.833,"scale":{"domain":[-2.5635,0.825],"nice":false,"zero":false}}}},
{"data":{"values":[{}]},"mark":{"type":"text","text":"CME","color":"#acacac","font":"Liberation Sans","fontSize":10.5,"align":"left","baseline":"alphabetic"},"encoding":{"x":{"datum":928.3,"scale":{"domain":[10.2,1290],"nice":false,"zero":false}},"y":{"datum":0.833,"scale":{"domain":[-2.5635,0.825],"nice":false,"zero":false}}}},
{"data":{"values":[{}]},"mark":{"type":"text","text":"L=21,829.000","color":"#c41e1e","font":"Liberation Sans","fontSize":10.5,"align":"left","baseline":"alphabetic"},"encoding":{"x":{"datum":955.3,"scale":{"domain":[10.2,1290],"nice":false,"zero":false}},"y":{"datum":0.833,"scale":{"domain":[-2.5635,0.825],"nice":false,"zero":false}}}},
{"data":{"values":[{}]},"mark":{"type":"text","text":"-312.750","color":"#c41e1e","font":"Liberation Sans","fontSize":10.5,"align":"left","baseline":"alphabetic"},"encoding":{"x":{"datum":1028,"scale":{"domain":[10.2,1290],"nice":false,"zero":false}},"y":{"datum":0.833,"scale":{"domain":[-2.5635,0.825],"nice":false,"zero":false}}}},
{"data":{"values":[{}]},"mark":{"type":"text","text":"-1.41%","color":"#c41e1e","font":"Liberation Sans","fontSize":10.5,"align":"left","baseline":"alphabetic"},"encoding":{"x":{"datum":1081,"scale":{"domain":[10.2,1290],"nice":false,"zero":false}},"y":{"datum":0.833,"scale":{"domain":[-2.5635,0.825],"nice":false,"zero":false}}}},
{"data":{"values":[{}]},"mark":{"type":"text","text":"TS=1","color":"#1a1a1a","font":"Liberation Sans","fontSize":10.5,"align":"left","baseline":"alphabetic"},"encoding":{"x":{"datum":1119.6,"scale":{"domain":[10.2,1290],"nice":false,"zero":false}},"y":{"datum":0.833,"scale":{"domain":[-2.5635,0.825],"nice":false,"zero":false}}}},
{"data":{"values":[{}]},"mark":{"type":"text","text":"TE=CME","color":"#1a1a1a","font":"Liberation Sans","fontSize":10.5,"align":"left","baseline":"alphabetic"},"encoding":{"x":{"datum":1152.8,"scale":{"domain":[10.2,1290],"nice":false,"zero":false}},"y":{"datum":0.833,"scale":{"domain":[-2.5635,0.825],"nice":false,"zero":false}}}},
{"data":{"values":[{}]},"mark":{"type":"text","text":"B=21,830.000","color":"#1a1a1a","font":"Liberation Sans","fontSize":10.5,"align":"left","baseline":"alphabetic"},"encoding":{"x":{"datum":1201.7,"scale":{"domain":[10.2,1290],"nice":false,"zero":false}},"y":{"datum":0.833,"scale":{"domain":[-2.5635,0.825],"nice":false,"zero":false}}}},
{"data":{"values":[{}]},"mark":{"type":"text","text":"I...","color":"#1a1a1a","font":"Liberation Sans","fontSize":10.5,"align":"left","baseline":"alphabetic"},"encoding":{"x":{"datum":1274.5,"scale":{"domain":[10.2,1290],"nice":false,"zero":false}},"y":{"datum":0.833,"scale":{"domain":[-2.5635,0.825],"nice":false,"zero":false}}}}
]
}
